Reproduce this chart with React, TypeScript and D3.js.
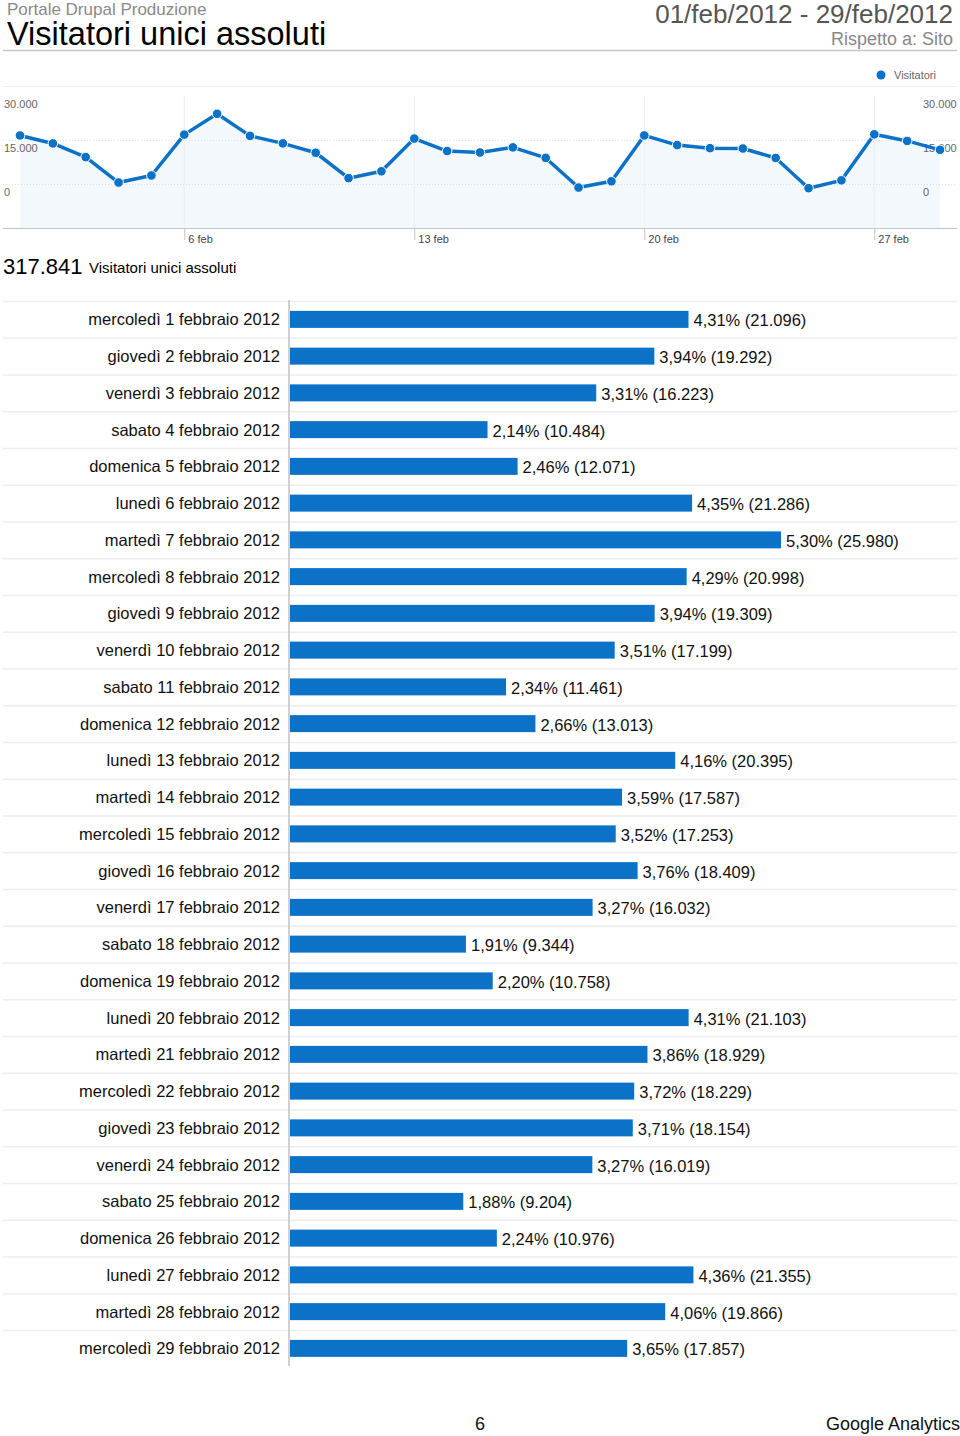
import React from "react";
import * as d3 from "d3";

const days = Array.from({ length: 29 }, (_, i) => i + 1);
const weekdays = ["mercoledì", "giovedì", "venerdì", "sabato", "domenica", "lunedì", "martedì"];
const visitors = [21096, 19292, 16223, 10484, 12071, 21286, 25980, 20998, 19309, 17199, 11461, 13013, 20395, 17587, 17253, 18409, 16032, 9344, 10758, 21103, 18929, 18229, 18154, 16019, 9204, 10976, 21355, 19866, 17857];
const percents = [4.31, 3.94, 3.31, 2.14, 2.46, 4.35, 5.30, 4.29, 3.94, 3.51, 2.34, 2.66, 4.16, 3.59, 3.52, 3.76, 3.27, 1.91, 2.20, 4.31, 3.86, 3.72, 3.71, 3.27, 1.88, 2.24, 4.36, 4.06, 3.65];
const yTickLabels = ["30.000", "15.000", "0"];
const xTickDays = [6, 13, 20, 27];
const total = "317.841";

const BLUE = "#0b72c7";
const FONT = "'Liberation Sans', Arial, Helvetica, sans-serif";

const fmtInt = (v: number) => d3.format(",")(v).replace(/,/g, ".");
const fmtPct = (v: number) => v.toFixed(2).replace(".", ",") + "%";

export default function App() {
  const W = 960, H = 1436;
  // line chart
  const x = d3.scaleLinear().domain([1, 29]).range([20, 940]);
  const y = d3.scaleLinear().domain([0, 30000]).range([229, 96]);
  const labelY = d3.scalePoint<string>().domain(yTickLabels).range([96, 184]);
  const pts = visitors.map((v, i) => [x(days[i]), y(v)] as [number, number]);
  const line = d3.line()(pts) || "";
  const area = d3.area<[number, number]>().x(d => d[0]).y0(228).y1(d => d[1])(pts) || "";

  // bar table
  const rowTop = 301;
  const band = d3.scaleBand<number>().domain(days).range([rowTop, rowTop + 29 * 36.75]);
  const bx = d3.scaleLinear().domain([0, 25980]).range([289, 781]);
  const barH = 17;

  return (
    <svg width={W} height={H} style={{ display: "block", position: "absolute", left: 0, top: 0 }} fontFamily={FONT}>
      <rect width={W} height={H} fill="#fff" />
      {/* header */}
      <text x={7} y={15} fontSize={17} fill="#8a8a8a">Portale Drupal Produzione</text>
      <text x={7} y={45} fontSize={32.5} fill="#000">Visitatori unici assoluti</text>
      <text x={953} y={23} fontSize={26} fill="#555" textAnchor="end">01/feb/2012 - 29/feb/2012</text>
      <text x={953} y={45} fontSize={18} fill="#888" textAnchor="end">Rispetto a: Sito</text>
      <line x1={3} x2={957} y1={50.5} y2={50.5} stroke="#c8c8c8" strokeWidth={1.5} />

      {/* legend */}
      <circle cx={881} cy={75} r={4.5} fill={BLUE} />
      <text x={894} y={79} fontSize={11} fill="#666">Visitatori</text>
      <line x1={3} x2={957} y1={86.5} y2={86.5} stroke="#eeeeee" />

      {/* line chart */}
      <path d={area} fill="#f3f8fc" />
      {yTickLabels.map((t, i) => (
        <g key={t}>
          {i > 0 && (
            <line x1={3} x2={957} y1={labelY(t)! + 0.5} y2={labelY(t)! + 0.5} stroke="#dddddd" strokeDasharray="1,2" />
          )}
          <text x={4} y={labelY(t)! + 12} fontSize={11} fill="#666">{t}</text>
          <text x={923} y={labelY(t)! + 12} fontSize={11} fill="#666">{t}</text>
        </g>
      ))}
      {xTickDays.map(d => (
        <g key={d}>
          <line x1={x(d)} x2={x(d)} y1={96} y2={228} stroke="#eeeeee" />
          <line x1={x(d) + 0.5} x2={x(d) + 0.5} y1={228} y2={240} stroke="#c4c4c4" />
          <text x={x(d) + 4} y={243} fontSize={11} fill="#444">{d} feb</text>
        </g>
      ))}
      <line x1={3} x2={957} y1={228.5} y2={228.5} stroke="#c4c4c4" />
      <path d={line} fill="none" stroke={BLUE} strokeWidth={3.5} strokeLinejoin="round" />
      {pts.map((p, i) => (
        <circle key={i} cx={p[0]} cy={p[1]} r={4.8} fill={BLUE} stroke="#fff" strokeWidth={1} />
      ))}

      {/* total */}
      <text x={3} y={274} fontSize={22} fill="#000">{total}</text>
      <text x={89} y={273} fontSize={15} fill="#000">Visitatori unici assoluti</text>

      {/* bar table */}
      {days.map((d, i) => {
        const top = band(d)!;
        const cy = top + band.bandwidth() / 2;
        return (
          <g key={d}>
            <line x1={3} x2={957} y1={top + 0.5} y2={top + 0.5} stroke="#eeeeee" strokeWidth={1.5} />
            <text x={280} y={cy + 6} fontSize={16.5} fill="#111" textAnchor="end">
              {`${weekdays[i % 7]} ${d} febbraio 2012`}
            </text>
            <rect x={bx(0) + 1} y={cy - barH / 2} width={bx(visitors[i]) - bx(0) - 1} height={barH} fill={BLUE} />
            <text x={bx(visitors[i]) + 5} y={cy + 7} fontSize={16.5} fill="#111">
              {`${fmtPct(percents[i])} (${fmtInt(visitors[i])})`}
            </text>
          </g>
        );
      })}
      <line x1={289} x2={289} y1={300} y2={1366} stroke="#c0c0c0" strokeWidth={1.5} />

      {/* footer */}
      <text x={480} y={1430} fontSize={18} fill="#111" textAnchor="middle">6</text>
      <text x={960} y={1430} fontSize={18} fill="#111" textAnchor="end">Google Analytics</text>
    </svg>
  );
}
